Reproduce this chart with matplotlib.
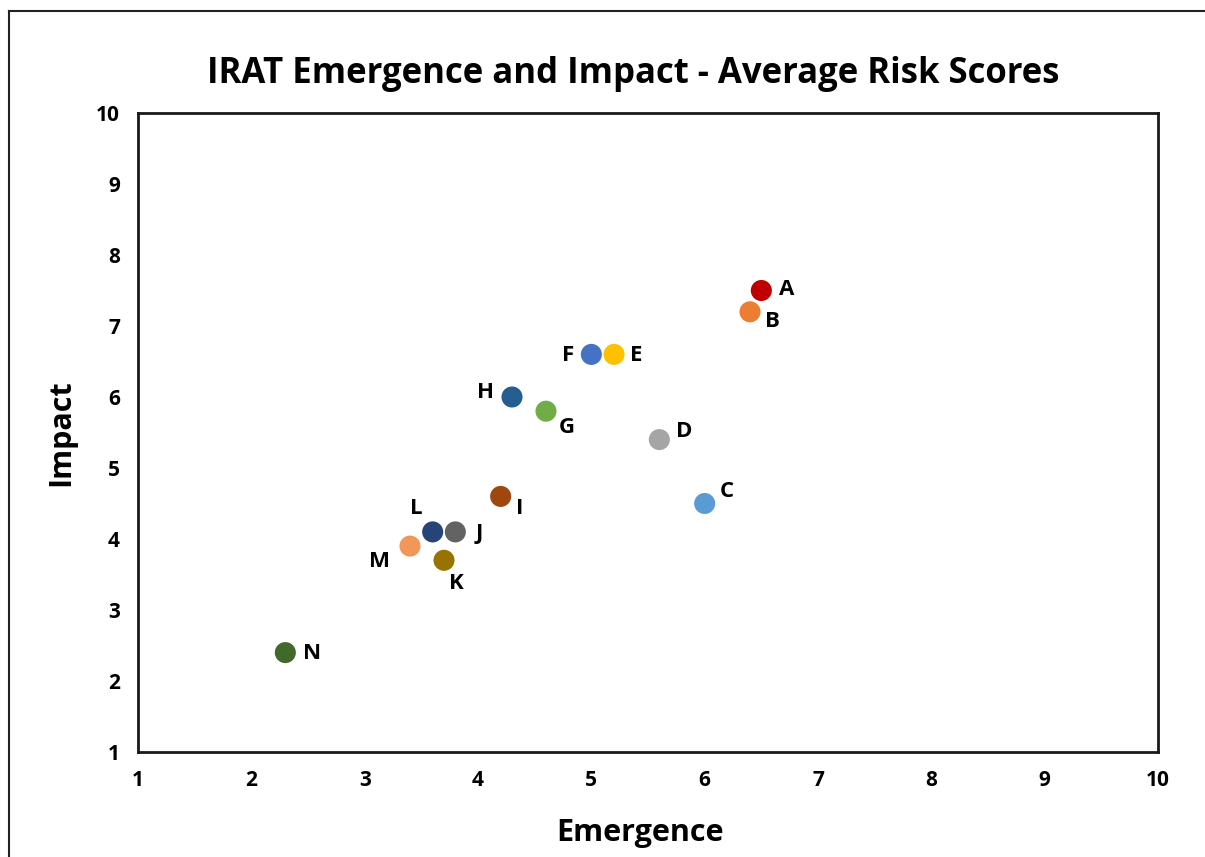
import matplotlib
matplotlib.use("Agg")
import matplotlib.pyplot as plt
from matplotlib.lines import Line2D

# IRAT virus scores
names = ['A', 'B', 'C', 'D', 'E', 'F', 'G', 'H', 'I', 'J', 'K', 'L', 'M', 'N']
emergence = [6.5, 6.4, 6.0, 5.6, 5.2, 5.0, 4.6, 4.3, 4.2, 3.8, 3.7, 3.6, 3.4, 2.3]
impact = [7.5, 7.2, 4.5, 5.4, 6.6, 6.6, 5.8, 6.0, 4.6, 4.1, 3.7, 4.1, 3.9, 2.4]
colors = ['#C00000', '#ED7D31', '#5B9BD5', '#A5A5A5', '#FFC000', '#4472C4',
          '#70AD47', '#255E91', '#9E480E', '#636363', '#997300', '#264478',
          '#F1975A', '#43682B']
# label offsets in points
offsets = [(18, 1), (16, -7), (16, 9), (18, 6), (16, -1), (-17, -1), (15, -12),
           (-19, 3), (14, -9), (17, -1), (9, -17), (-12, 17), (-22, -11), (19, -1)]

plt.rcParams['font.family'] = ['Open Sans', 'DejaVu Sans']

fig = plt.figure(figsize=(12.05, 8.57), dpi=100)
ax = fig.add_axes([138 / 1205, 1 - 752 / 857, 1020 / 1205, 639 / 857])

ax.scatter(emergence, impact, s=230, c=colors, zorder=3, linewidths=0)
for n, x, y, off in zip(names, emergence, impact, offsets):
    ax.annotate(n, (x, y), xytext=off, textcoords='offset points',
                ha='center', va='center', fontsize=16, fontweight='bold')

ax.set_xlim(1, 10)
ax.set_ylim(1, 10)
ax.set_xticks(range(1, 11))
ax.set_yticks(range(1, 11))
ax.tick_params(length=0, labelsize=15, pad=13)
for lab in ax.get_xticklabels() + ax.get_yticklabels():
    lab.set_fontweight('bold')
for sp in ax.spines.values():
    sp.set_linewidth(2)
    sp.set_color('#1a1a1a')

ax.set_xlabel('Emergence', fontsize=22, fontweight='bold')
ax.xaxis.set_label_coords(0.492, -0.103)
ax.set_ylabel('Impact', fontsize=22, fontweight='bold', labelpad=14)
fig.text(633 / 1205, 1 - 74 / 857, 'IRAT Emergence and Impact - Average Risk Scores',
         ha='center', va='center', fontsize=25, fontweight='bold')

# outer frame
fig.add_artist(Line2D([9 / 1205, 9 / 1205], [0, 1 - 11 / 857], transform=fig.transFigure,
                      color='#222222', lw=1.5))
fig.add_artist(Line2D([9 / 1205, 1], [1 - 11 / 857, 1 - 11 / 857], transform=fig.transFigure,
                      color='#222222', lw=1.5))

fig.savefig('out.png', dpi=100)
